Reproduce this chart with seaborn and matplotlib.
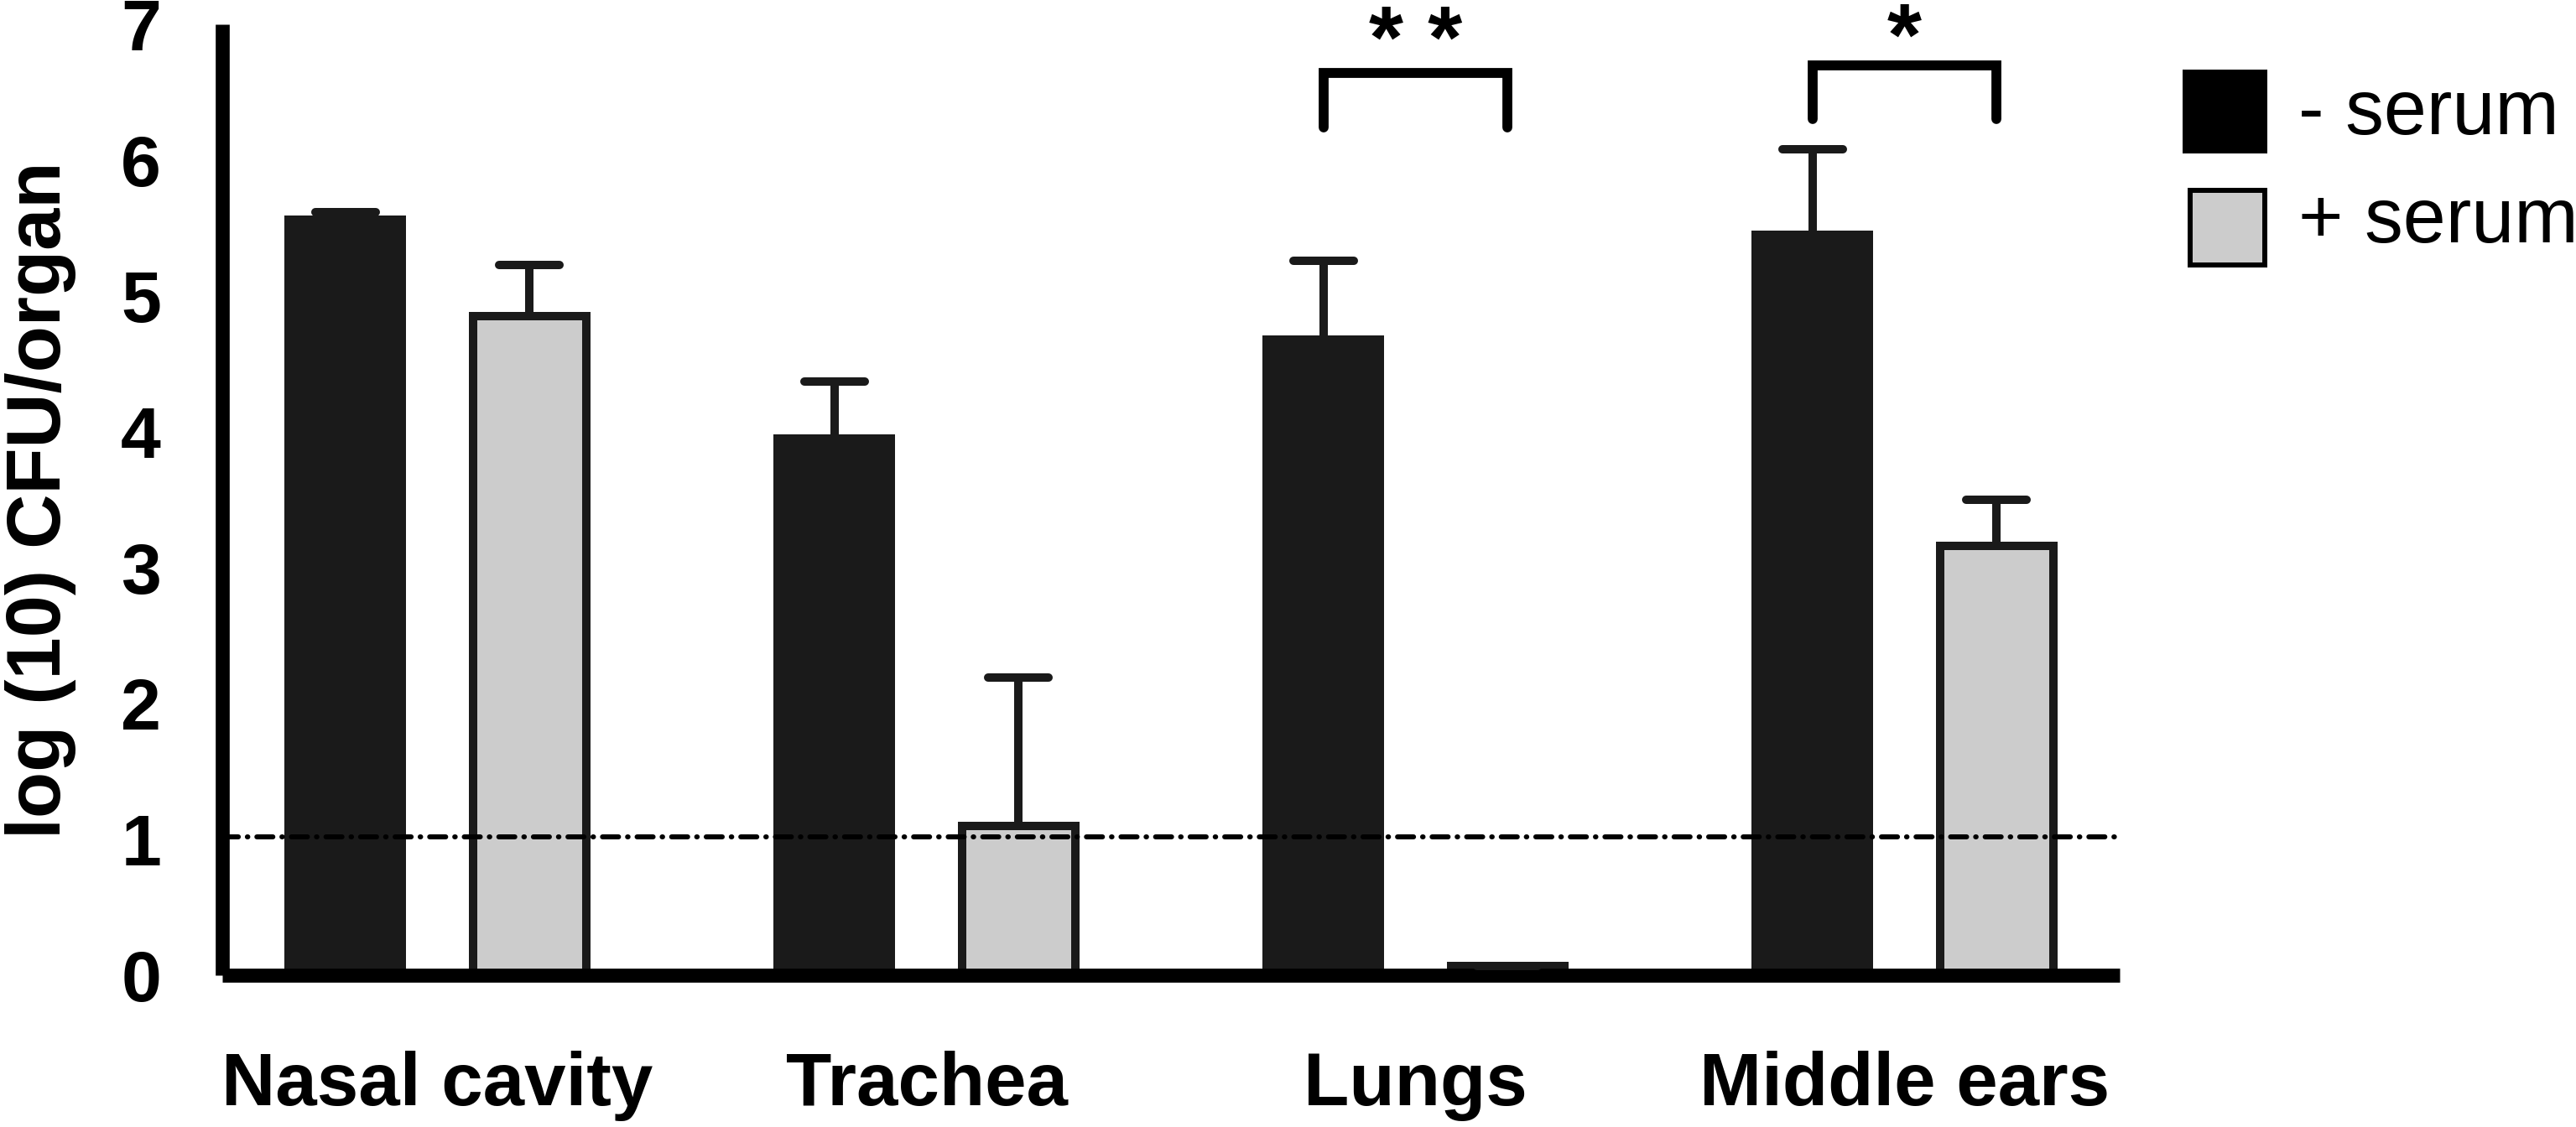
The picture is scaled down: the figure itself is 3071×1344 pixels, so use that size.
import numpy as np
import pandas as pd
import matplotlib
matplotlib.use("Agg")
import matplotlib.pyplot as plt
from matplotlib.markers import MarkerStyle
from matplotlib.patches import Rectangle
import seaborn as sns

# ---------------- data ----------------
organs = ["Nasal cavity", "Trachea", "Lungs", "Middle ears"]
groups = ["- serum", "+ serum"]
minus_serum = [5.59, 3.98, 4.71, 5.48]
minus_serum_err = [0.03, 0.39, 0.55, 0.60]
plus_serum = [4.85, 1.10, 0.07, 3.16]
plus_serum_err = [0.38, 1.09, 0.0, 0.34]
detection_limit = 1.02
y_ticks = [0, 1, 2, 3, 4, 5, 6, 7]
y_label = "log (10) CFU/organ"
# significance: (organ index, label, bracket top, leg bottom, text baseline)
sig_organs = [2, 3]
sig_labels = ["* *", "*"]
sig_top = [6.64, 6.70]
sig_bottom = [6.24, 6.30]
sig_text_y = [6.68, 6.70]

BLACK = "#1a1a1a"
GRAY = "#cccccc"

df = pd.DataFrame({
    "organ": organs * 2,
    "serum": [groups[0]] * 4 + [groups[1]] * 4,
    "value": minus_serum + plus_serum,
})

sns.set_style("white")
plt.rcParams["font.family"] = ["Liberation Sans", "DejaVu Sans"]
plt.rcParams["text.color"] = "black"
plt.rcParams["axes.labelcolor"] = "black"
plt.rcParams["xtick.color"] = "black"
plt.rcParams["ytick.color"] = "black"

W, H = 3071, 1344
fig = plt.figure(figsize=(W / 100, H / 100), dpi=100)
ax = fig.add_axes([265 / W, (H - 1163) / H, (2527 - 265) / W, (1163 - 29) / H])

sns.barplot(data=df, x="organ", y="value", hue="serum", order=organs,
            hue_order=groups, palette=[BLACK, GRAY], width=0.754, gap=0.337,
            errorbar=None, legend=False, saturation=1, ax=ax)

ax.set_xlim(-0.44, 3.44)
ax.set_ylim(0, 7)

# style bars
edge_lw = 7.2
px_per_unit = (2527 - 265) / 3.88
lw_data = edge_lw * 100 / 72 / px_per_unit
for p in ax.containers[0]:
    p.set_edgecolor("none")
    p.set_linewidth(0)
    p.set_zorder(2)
for p in ax.containers[1]:
    p.set_edgecolor(BLACK)
    p.set_linewidth(edge_lw)
    p.set_joinstyle("miter")
    x0, w = p.get_x(), p.get_width()
    p.set_x(x0 + lw_data / 2)
    p.set_width(w - lw_data)
    p.set_zorder(2)

# error bars (upper only)
centers = {}
for ci, (vals, errs) in enumerate([(minus_serum, minus_serum_err), (plus_serum, plus_serum_err)]):
    xs = [p.get_x() + p.get_width() / 2 for p in ax.containers[ci]]
    centers[ci] = xs
    eb = ax.errorbar(xs, vals, yerr=[np.zeros(len(vals)), errs], fmt="none",
                     ecolor=BLACK, elinewidth=7.2, capsize=26, capthick=7.2, zorder=3)
    caps = eb[1]
    if len(caps) == 2:
        caps[0].remove()  # lower caps (hidden in reference)
        caps = caps[1:]
    for cap in caps:
        cap.set_marker(MarkerStyle("_", capstyle="round"))

# detection limit
ax.axhline(detection_limit, color="black", lw=4.3, linestyle=(0, (3.2, 1.8, 0.1, 1.8)),
           dash_capstyle="round", zorder=4)

# significance brackets
for oi, lab, yt, yb, ty in zip(sig_organs, sig_labels, sig_top, sig_bottom, sig_text_y):
    x1 = centers[0][oi]
    x2 = centers[1][oi]
    ax.plot([x1, x1, x2, x2], [yb, yt, yt, yb], color="black", lw=8.5,
            solid_capstyle="round", solid_joinstyle="miter", clip_on=False, zorder=5)
    ax.text((x1 + x2) / 2, ty, lab, ha="center", va="baseline", fontsize=76,
            fontweight="bold", clip_on=False)

# axes styling
for s in ["top", "right"]:
    ax.spines[s].set_visible(False)
for s in ["left", "bottom"]:
    ax.spines[s].set_linewidth(12)
    ax.spines[s].set_color("black")
    ax.spines[s].set_capstyle("butt")
ax.set_yticks(y_ticks)
ax.tick_params(axis="y", length=42.5, width=10, pad=10, labelsize=62, color="black",
               labelcolor="black")
ax.tick_params(axis="x", length=0, pad=65, labelsize=64, labelcolor="black")
for t in ax.get_yticklabels() + ax.get_xticklabels():
    t.set_fontweight("bold")
ax.set_xlabel("")
ax.set_ylabel(y_label, fontsize=65, fontweight="bold", labelpad=38, color="black")

# legend (manual)
fig.patches.append(Rectangle((2602 / W, (H - 183) / H), 101 / W, 100 / H,
                             transform=fig.transFigure, facecolor="black", edgecolor="none"))
fig.patches.append(Rectangle((2611 / W, (H - 316) / H), 89 / W, 89 / H,
                             transform=fig.transFigure, facecolor=GRAY, edgecolor="black",
                             linewidth=4.3))
fig.text(2740 / W, (H - 160) / H, groups[0], fontsize=66, va="baseline", ha="left")
fig.text(2740 / W, (H - 289) / H, groups[1], fontsize=66, va="baseline", ha="left")

fig.savefig("out.png", dpi=100, facecolor="white")
